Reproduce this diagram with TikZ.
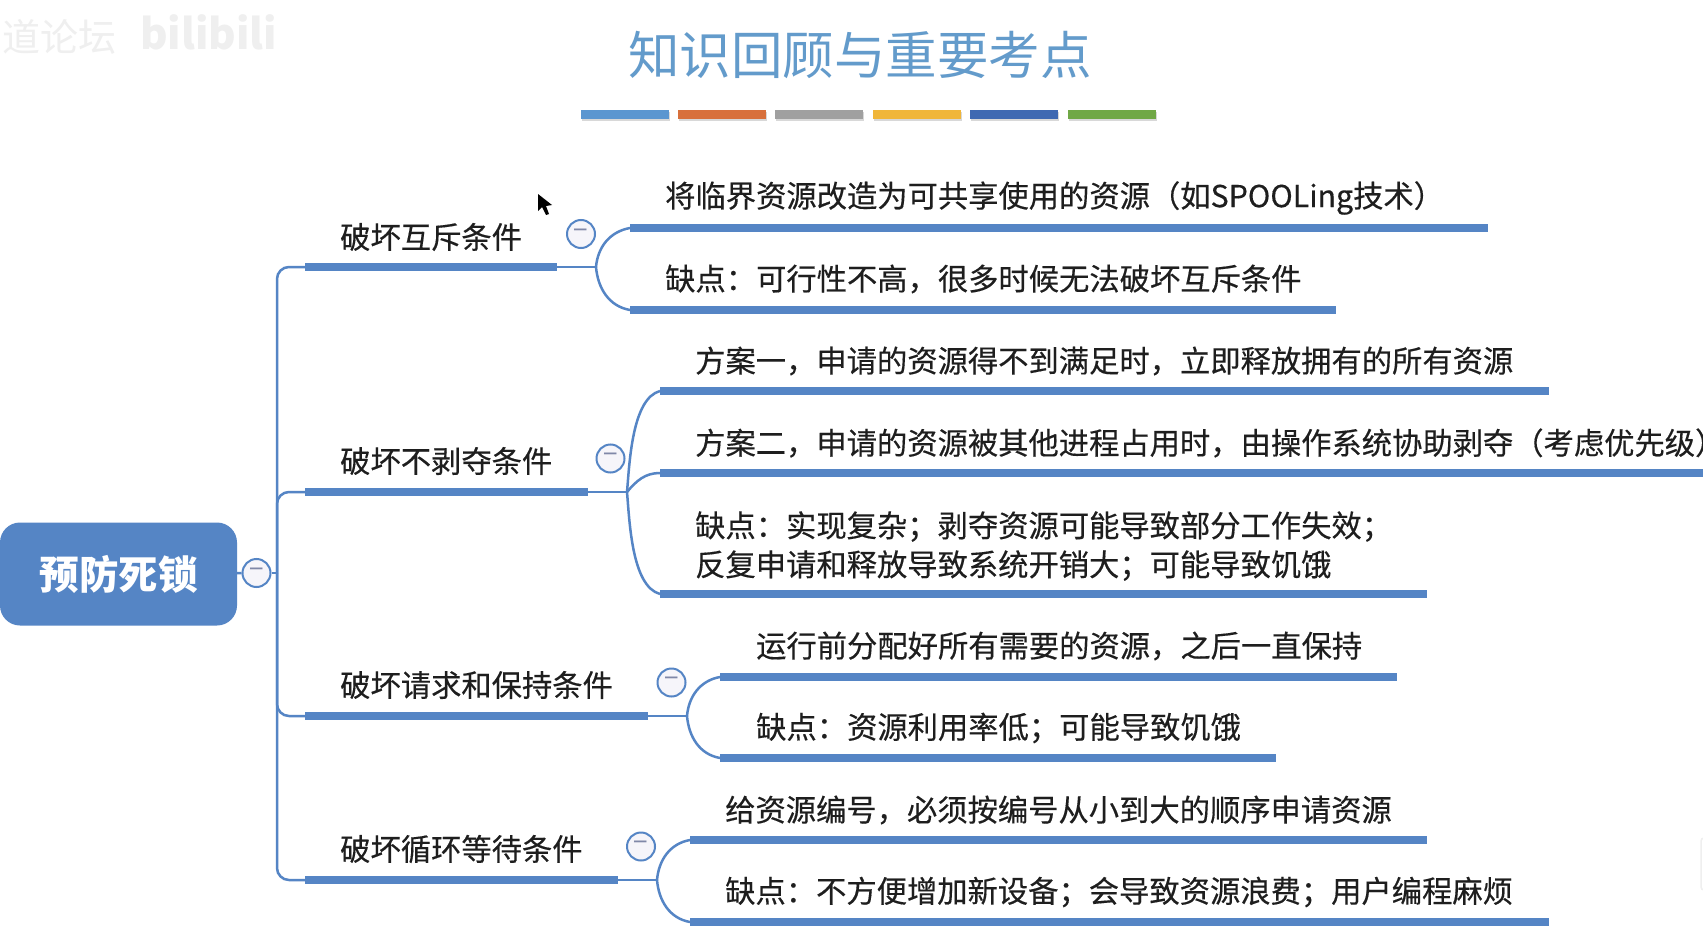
\documentclass[tikz,border=0pt]{standalone}
\usepackage{fontspec}
\setmainfont{Noto Sans CJK SC}
\newfontfamily\mapfont[FakeBold=0.35]{Noto Sans CJK SC}
\usetikzlibrary{shadows}

\definecolor{mapblue}{HTML}{5585C5}
\definecolor{titleblue}{HTML}{639BCB}
\definecolor{inkgray}{HTML}{1E1E1E}
\definecolor{markgray}{HTML}{EFEFEF}
\definecolor{foldfill}{HTML}{F6F5FA}
\definecolor{foldminus}{HTML}{8088A8}

\newcommand{\foldmark}{\raisebox{-5pt}{−}}

\tikzset{
	x=1pt, y=-1pt,
	rootbox/.style={shape=rectangle,rounded corners=20pt,fill=mapblue,text=white,minimum width=237pt,minimum height=103pt,inner sep=0pt,font=\fontsize{39.5}{42}\selectfont\bfseries},
	topic/.style={anchor=west,inner sep=0pt,text=inkgray,font=\mapfont\fontsize{30.3}{39}\selectfont},
	leaf/.style={anchor=west,inner sep=0pt,align=left,text=inkgray,font=\mapfont\fontsize{30.3}{39}\selectfont},
	fold/.style={shape=circle,draw=mapblue,line width=2pt,fill=foldfill,minimum size=28pt,inner sep=0pt,text=foldminus,font=\fontsize{26}{26}\selectfont},
	stripe/.style={shape=rectangle,minimum width=88pt,minimum height=9pt,inner sep=0pt,drop shadow={shadow xshift=1pt,shadow yshift=-2pt,opacity=.3}},
	topicbar/.style={draw=mapblue,line width=8.5pt},
	leafbar/.style={draw=mapblue,line width=8.5pt},
	branch/.style={draw=mapblue,line width=2.5pt},
}

\begin{document}
\begin{tikzpicture}
	\useasboundingbox (0,0) rectangle (1703,939);
	\fill[white] (0,0) rectangle (1703,939);

	% faint watermark, mouse pointer, screen edge
	\node[anchor=west,inner sep=0pt,text=markgray,font=\fontsize{38}{38}\selectfont] (markcn) at (2,37) {道论坛};
	\node[anchor=west,inner sep=0pt,text=markgray,font=\fontsize{42}{42}\selectfont\bfseries] (markbl) at (140,32) {bilibili};
	\fill[black] (538,194) -- (538,211) -- (542,207) -- (546,215) -- (549,214) -- (546,206) -- (552,205) -- cycle;
	\draw[markgray,line width=1.5pt,rounded corners=3pt] (1703,838) -- (1701,838) -- (1701,890) -- (1703,890);

	% title
	\node[text=titleblue,inner sep=0pt,font=\fontsize{51.5}{54}\selectfont] (title) at (860,55) {知识回顾与重要考点};
	\node[stripe,fill={rgb,255:red,91;green,150;blue,208}] (s1) at (625,115) {};
	\node[stripe,fill={rgb,255:red,216;green,112;blue,60}] (s2) at (721.5,115) {};
	\node[stripe,fill={rgb,255:red,160;green,160;blue,160}] (s3) at (819,115) {};
	\node[stripe,fill={rgb,255:red,240;green,182;blue,58}] (s4) at (916.5,115) {};
	\node[stripe,fill={rgb,255:red,63;green,105;blue,178}] (s5) at (1013.5,115) {};
	\node[stripe,fill={rgb,255:red,112;green,168;blue,70}] (s6) at (1112,115) {};

	% bars, start and end of each
	\coordinate (trunk) at (277,573);
	\coordinate (mutexs) at (305,267);
	\coordinate (mutexe) at (557,267);
	\coordinate (mutexj) at (596,267);
	\coordinate (preems) at (305,492);
	\coordinate (preeme) at (588,492);
	\coordinate (preemj) at (627,492);
	\coordinate (holds) at (305,716);
	\coordinate (holde) at (648,716);
	\coordinate (holdj) at (687,716);
	\coordinate (waits) at (305,880);
	\coordinate (waite) at (618,880);
	\coordinate (waitj) at (657,880);

	\coordinate (m1s) at (630,228);
	\coordinate (m1e) at (1488,228);
	\coordinate (m2s) at (630,310);
	\coordinate (m2e) at (1336,310);
	\coordinate (p1s) at (660,391);
	\coordinate (p1e) at (1549,391);
	\coordinate (p2s) at (660,473);
	\coordinate (p2e) at (1703,473);
	\coordinate (p3s) at (660,594);
	\coordinate (p3e) at (1427,594);
	\coordinate (h1s) at (720,677);
	\coordinate (h1e) at (1397,677);
	\coordinate (h2s) at (720,758);
	\coordinate (h2e) at (1276,758);
	\coordinate (w1s) at (690,840);
	\coordinate (w1e) at (1427,840);
	\coordinate (w2s) at (690,922);
	\coordinate (w2e) at (1549,922);

	\node[rootbox] (root) at (118.5,574) {预防死锁};
	\node[fold] (rootfold) at (256.5,573) {\foldmark};

	\path[branch] (root) edge (rootfold);
	\path[branch] (rootfold) edge (trunk);
	\draw[branch,rounded corners=12pt] (trunk) |- (mutexs);
	\draw[branch,rounded corners=12pt] (trunk) |- (preems);
	\draw[branch,rounded corners=12pt] (trunk) |- (holds);
	\draw[branch,rounded corners=12pt] (trunk) |- (waits);

	\path[topicbar] (mutexs) edge (mutexe);
	\path[topicbar] (preems) edge (preeme);
	\path[topicbar] (holds) edge (holde);
	\path[topicbar] (waits) edge (waite);

	\path[branch] (mutexe) edge (mutexj);
	\path[branch] (preeme) edge (preemj);
	\path[branch] (holde) edge (holdj);
	\path[branch] (waite) edge (waitj);

	\path[branch] (mutexj) edge[out=85,in=190] (m1s);
	\path[branch] (mutexj) edge[out=-85,in=170] (m2s);
	\path[branch] (preemj) edge[out=85,in=195,looseness=.7] (p1s);
	\path[branch] (preemj) edge[out=50,in=180] (p2s);
	\path[branch] (preemj) edge[out=-85,in=165,looseness=.7] (p3s);
	\path[branch] (holdj) edge[out=85,in=190] (h1s);
	\path[branch] (holdj) edge[out=-85,in=170] (h2s);
	\path[branch] (waitj) edge[out=85,in=190] (w1s);
	\path[branch] (waitj) edge[out=-85,in=170] (w2s);

	\path[leafbar] (m1s) edge (m1e);
	\path[leafbar] (m2s) edge (m2e);
	\path[leafbar] (p1s) edge (p1e);
	\path[leafbar] (p2s) edge (p2e);
	\path[leafbar] (p3s) edge (p3e);
	\path[leafbar] (h1s) edge (h1e);
	\path[leafbar] (h2s) edge (h2e);
	\path[leafbar] (w1s) edge (w1e);
	\path[leafbar] (w2s) edge (w2e);

	\node[topic] (mutex) at (340,237) {破坏互斥条件};
	\node[topic] (preem) at (340,461) {破坏不剥夺条件};
	\node[topic] (hold) at (340,685) {破坏请求和保持条件};
	\node[topic] (wait) at (340,849) {破坏循环等待条件};

	\node[fold] (mutexfold) at (581,234) {\foldmark};
	\node[fold] (preemfold) at (610.5,458.5) {\foldmark};
	\node[fold] (holdfold) at (671.5,682.5) {\foldmark};
	\node[fold] (waitfold) at (641,846.5) {\foldmark};

	\node[leaf] (m1) at (665,198) {将临界资源改造为可共享使用的资源（如SPOOLing技术）};
	\node[leaf] (m2) at (665,279) {缺点：可行性不高，很多时候无法破坏互斥条件};
	\node[leaf] (p1) at (695,361) {方案一，申请的资源得不到满足时，立即释放拥有的所有资源};
	\node[leaf] (p2) at (695,443) {方案二，申请的资源被其他进程占用时，由操作系统协助剥夺（考虑优先级）};
	\node[leaf] (p3) at (695,546) {缺点：实现复杂；剥夺资源可能导致部分工作失效；\\反复申请和释放导致系统开销大；可能导致饥饿};
	\node[leaf] (h1) at (756,646) {运行前分配好所有需要的资源，之后一直保持};
	\node[leaf] (h2) at (756,728) {缺点：资源利用率低；可能导致饥饿};
	\node[leaf] (w1) at (725,810) {给资源编号，必须按编号从小到大的顺序申请资源};
	\node[leaf] (w2) at (725,892) {缺点：不方便增加新设备；会导致资源浪费；用户编程麻烦};
\end{tikzpicture}
\end{document}
